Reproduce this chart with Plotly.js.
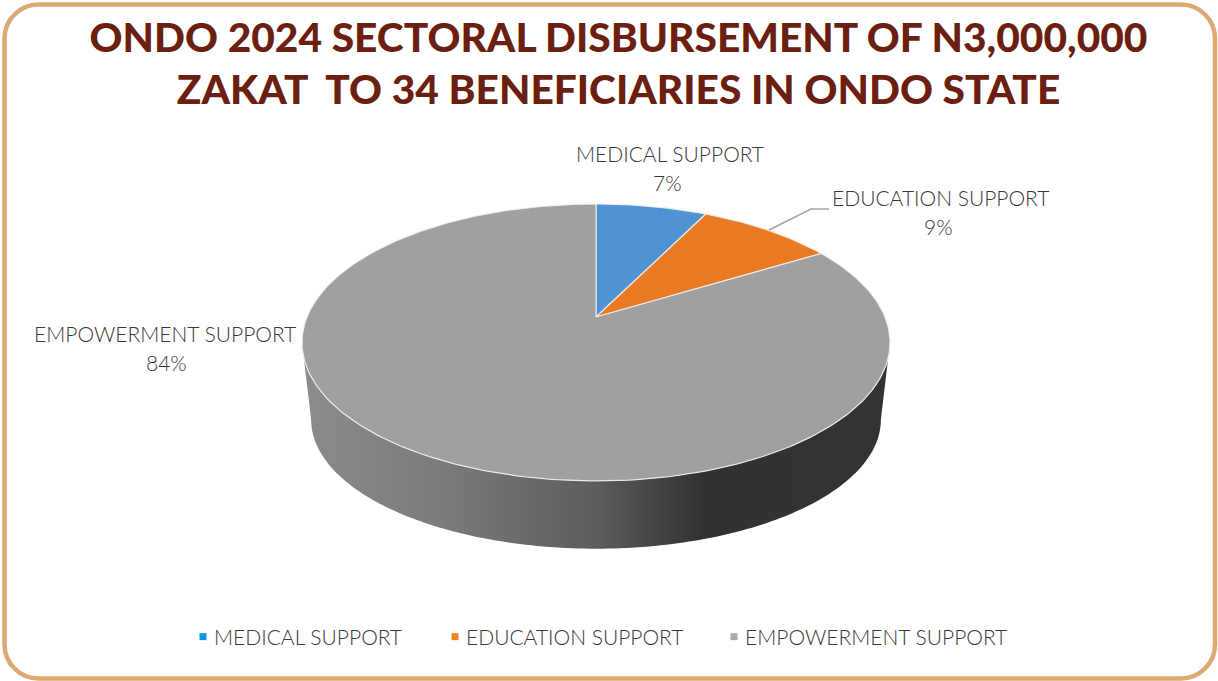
<!DOCTYPE html>
<html><head><meta charset="utf-8">
<script src="https://cdn.plot.ly/plotly-3.0.1.min.js"></script>
<style>html,body{margin:0;padding:0;background:#fff}#chart{width:1218px;height:681px}</style>
</head><body><div id="chart"></div>
<script>
const categories = ['MEDICAL SUPPORT', 'EDUCATION SUPPORT', 'EMPOWERMENT SUPPORT'];
const shares = [7.3, 9, 83.7];
const sliceColors = ['#5093D2', '#E97A23', '#A0A0A0'];
const legendColors = ['#0B96DE', '#F58220', '#A8A9AD'];
const titleLines = ['ONDO 2024 SECTORAL DISBURSEMENT OF N3,000,000', 'ZAKAT  TO 34 BENEFICIARIES IN ONDO STATE'];

// Perspective view of a tilted disc: maps a pie angle on to the chart's axes.
const tilt = 0.184;
function project(theta, disc) {
  const u = Math.sin(theta), v = Math.cos(theta), w = 1 + tilt * v;
  return [disc.cx + disc.a * u / w, disc.cy - disc.b * v / w];
}
const topDisc = {cx: 596, cy: 317, a: 289, b: 133.8};
const baseDisc = {cx: 596, cy: 396, a: 280, b: 124.6};
const TAU = Math.PI * 2;
const total = shares.reduce((s, v) => s + v, 0);

const traces = [];

// side wall: front part of the disc between its two horizontal extremes
const edge = Math.acos(-tilt);
const wx = [], wy = [];
for (let i = 0; i <= 160; i++) {
  const p = project(edge + (TAU - 2 * edge) * i / 160, topDisc);
  wx.push(p[0]); wy.push(p[1]);
}
for (let i = 160; i >= 0; i--) {
  const p = project(edge + (TAU - 2 * edge) * i / 160, baseDisc);
  wx.push(p[0]); wy.push(p[1]);
}
traces.push({
  type: 'scatter', mode: 'none', x: wx, y: wy, fill: 'toself', showlegend: false, hoverinfo: 'skip',
  fillgradient: {type: 'horizontal', start: 302, stop: 890,
    colorscale: [[0, '#8C8C8C'], [0.25, '#7A7A7A'], [0.5, '#5C5C5C'], [0.68, '#323232'], [1, '#333333']]}
});

// top face slices
let acc = 0;
shares.forEach((val, i) => {
  const a0 = acc / total * TAU, a1 = (acc + val) / total * TAU;
  acc += val;
  const n = Math.max(8, Math.round(val * 4));
  const xs = [topDisc.cx], ys = [topDisc.cy];
  for (let k = 0; k <= n; k++) {
    const p = project(a0 + (a1 - a0) * k / n, topDisc);
    xs.push(p[0]); ys.push(p[1]);
  }
  xs.push(topDisc.cx); ys.push(topDisc.cy);
  traces.push({
    type: 'scatter', mode: 'lines', x: xs, y: ys, fill: 'toself', fillcolor: sliceColors[i],
    line: {color: 'rgba(240,240,240,0.9)', width: 1.2}, showlegend: false,
    name: categories[i], text: Math.round(val) + '%', hoverinfo: 'name+text'
  });
});

// leader line for the education label
traces.push({type: 'scatter', mode: 'lines', x: [769, 811, 829], y: [230, 209, 209],
  line: {color: '#A6A6A6', width: 1.5}, showlegend: false, hoverinfo: 'skip'});

// legend entries
categories.forEach((c, i) => traces.push({
  type: 'scatter', mode: 'markers', x: [null], y: [null], name: c,
  marker: {symbol: 'square', size: 7, color: legendColors[i]}, showlegend: true
}));

const labelFont = {family: 'Lato, sans-serif', size: 21, color: '#383838', weight: 300};
const labelSpots = [
  {x: 669.5, y: 153.5, py: 182.5, px: 667},
  {x: 940.5, y: 197.5, py: 226.5, px: 938},
  {x: 165, y: 333.5, py: 362.5, px: 166}
];
const annotations = [];
categories.forEach((c, i) => {
  const s = labelSpots[i];
  annotations.push({xref: 'x', yref: 'y', x: s.x, y: s.y, text: c, showarrow: false, font: labelFont, xanchor: 'center', yanchor: 'middle'});
  annotations.push({xref: 'x', yref: 'y', x: s.px, y: s.py, text: Math.round(shares[i]) + '%', showarrow: false, font: labelFont, xanchor: 'center', yanchor: 'middle'});
});

const r = 34, k = r * 0.45, L = 4.5, R = 1215, T = 4.5, B = 678.5;
const framePath = `M${L + r},${T} L${R - r},${T} C${R - k},${T} ${R},${T + k} ${R},${T + r} L${R},${B - r} C${R},${B - k} ${R - k},${B} ${R - r},${B} L${L + r},${B} C${L + k},${B} ${L},${B - k} ${L},${B - r} L${L},${T + r} C${L},${T + k} ${L + k},${T} ${L + r},${T} Z`;

const layout = {
  width: 1218, height: 681, margin: {l: 0, r: 0, t: 0, b: 0},
  paper_bgcolor: '#fff', plot_bgcolor: 'rgba(0,0,0,0)',
  title: {text: titleLines.join('<br>'), x: 618.5 / 1218, xanchor: 'center', xref: 'paper', y: 1 - 51.5 / 681, yanchor: 'middle', yref: 'paper',
    font: {family: 'Lato, sans-serif', size: 40.7, weight: 900, color: '#6B1F10'}},
  xaxis: {range: [0, 1218], visible: false, fixedrange: true},
  yaxis: {range: [681, 0], visible: false, fixedrange: true},
  shapes: [{type: 'path', xref: 'x', yref: 'y', path: framePath, line: {color: '#DBA971', width: 4.5}, fillcolor: 'rgba(0,0,0,0)', layer: 'below'}],
  annotations,
  legend: {orientation: 'h', x: 185 / 1218, xanchor: 'left', y: 1 - 637 / 681, yanchor: 'middle', font: labelFont, itemwidth: 30, bgcolor: 'rgba(0,0,0,0)'},
  showlegend: true
};
// Legend entries in the reference sit closer and further apart than Plotly's default spacing.
const legendStarts = [183, 435, 714];
Plotly.newPlot('chart', traces, layout, {displayModeBar: false}).then(gd => {
  const items = gd.querySelectorAll('.legend .traces');
  const legendBox = gd.querySelector('.legend').getBoundingClientRect();
  items.forEach((g, i) => {
    const m = /translate\(([-\d.]+),\s*([-\d.]+)\)/.exec(g.getAttribute('transform') || '');
    const y = m ? m[2] : 0;
    g.setAttribute('transform', `translate(${legendStarts[i] - legendBox.left},${y})`);
    const t = g.querySelector('text.legendtext');
    if (t) t.setAttribute('x', parseFloat(t.getAttribute('x')) - 9);
  });
  const clip = gd.querySelector('.legend .scrollbox');
  if (clip) clip.removeAttribute('clip-path');
  const clipBg = gd.querySelector('.legend');
  if (clipBg) clipBg.style.overflow = 'visible';
});
</script></body></html>
